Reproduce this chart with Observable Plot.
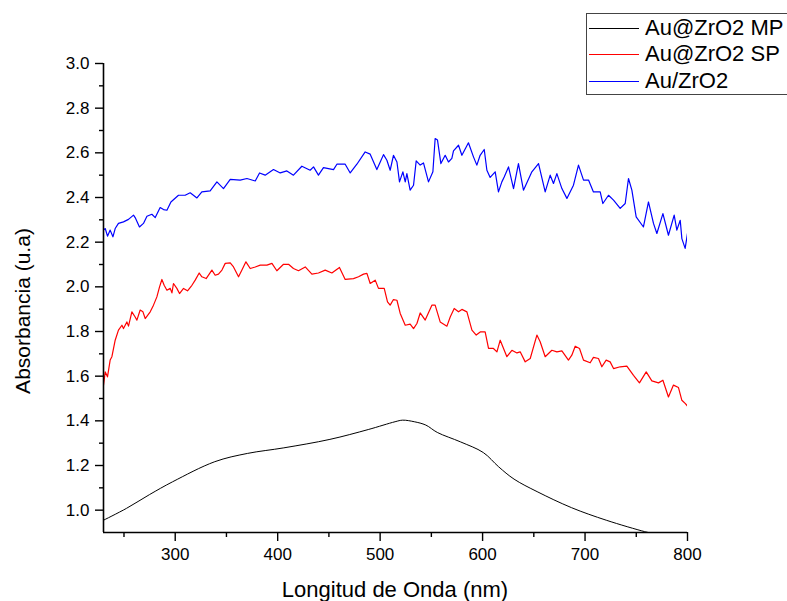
<!DOCTYPE html>
<html>
<head>
<meta charset="utf-8">
<script src="https://cdn.jsdelivr.net/npm/d3@7"></script>
<script src="https://cdn.jsdelivr.net/npm/@observablehq/plot@0.6"></script>
<style>
  html, body { margin: 0; padding: 0; background: #fff; }
  #wrap { position: relative; width: 787px; height: 601px; overflow: hidden; font-family: "Liberation Sans", Arial, sans-serif; }
  #legend { position: absolute; left: 586px; top: 13px; width: 215px; height: 82px; border: 1px solid #444; box-sizing: border-box; background: #fff; }
  .row { position: absolute; left: 0; height: 0; }
  .sw { position: absolute; left: 2px; width: 50px; height: 1px; top: 0; }
  .lb { position: absolute; left: 58px; top: 0; transform: translateY(-52%); font-size: 22px; line-height: 1; white-space: nowrap; color: #000; }
</style>
</head>
<body>
<div id="wrap"></div>
<script>
// ---- data ----
const seriesNames = ["Au@ZrO2 MP", "Au@ZrO2 SP", "Au/ZrO2"];
const seriesColors = ["#000000", "#ff0000", "#0000ff"];
const xDomain = [230, 800];
const yDomain = [0.9, 3.0];
const xTicks = [300, 400, 500, 600, 700, 800];
const xMinorTicks = [250, 350, 450, 550, 650, 750];
const yTicks = [1.0, 1.2, 1.4, 1.6, 1.8, 2.0, 2.2, 2.4, 2.6, 2.8, 3.0];
const yMinorTicks = [1.1, 1.3, 1.5, 1.7, 1.9, 2.1, 2.3, 2.5, 2.7, 2.9];

// Au@ZrO2 MP (black)
const mp = [[230,0.955],[252.4,1.008],[275,1.07],[297.4,1.127],[338.6,1.217],[370.4,1.254],[406,1.279],[451,1.317],[488.4,1.361],[514.6,1.396],[522,1.403],[533.3,1.396],[544.6,1.381],[555.8,1.348],[578.3,1.306],[600.7,1.258],[615.7,1.194],[630.7,1.139],[653.2,1.083],[686.9,1.011],[720.7,0.955],[758.1,0.904],[765,0.897]];

// Au@ZrO2 SP (red)
const sp = [[230.0,1.560],[231.7,1.619],[233.9,1.597],[236.5,1.672],[238.2,1.687],[241.4,1.761],[244.6,1.806],[248.0,1.828],[249.5,1.813],[252.8,1.843],[254.4,1.824],[257.7,1.888],[260.9,1.865],[262.6,1.851],[265.8,1.896],[268.5,1.888],[270.7,1.858],[275.6,1.888],[278.8,1.918],[282.1,1.955],[284.7,2.000],[287.0,2.033],[289.2,2.007],[291.9,1.985],[295.1,1.993],[296.8,1.973],[298.3,2.015],[301.6,1.993],[304.2,1.970],[308.1,1.993],[312.0,1.982],[316.3,2.007],[319.5,2.030],[323.4,2.062],[326.0,2.045],[330.2,2.037],[335.8,2.075],[339.0,2.052],[342.2,2.057],[345.6,2.075],[348.8,2.105],[353.7,2.107],[356.9,2.089],[361.8,2.045],[365.1,2.075],[369.0,2.112],[373.2,2.082],[378.1,2.089],[383.0,2.097],[389.5,2.097],[394.4,2.105],[399.2,2.072],[405.7,2.101],[410.6,2.101],[415.4,2.082],[420.3,2.072],[426.9,2.089],[433.4,2.057],[439.8,2.062],[446.4,2.075],[452.9,2.062],[460.3,2.087],[465.9,2.033],[474.0,2.037],[478.9,2.045],[483.8,2.057],[487.1,2.060],[490.3,2.015],[495.2,2.030],[498.4,1.993],[504.0,1.993],[507.2,1.933],[509.8,1.918],[513.0,1.943],[516.4,1.940],[519.6,1.881],[524.5,1.828],[529.3,1.833],[532.6,1.813],[535.9,1.836],[539.1,1.883],[544.0,1.851],[550.5,1.918],[553.7,1.918],[558.6,1.843],[565.2,1.824],[568.4,1.865],[572.3,1.903],[576.5,1.888],[579.8,1.899],[584.7,1.888],[589.6,1.806],[593.8,1.784],[597.7,1.798],[602.5,1.798],[605.8,1.724],[610.6,1.724],[614.0,1.709],[617.2,1.761],[623.7,1.687],[628.6,1.716],[633.5,1.704],[636.7,1.709],[641.6,1.664],[646.5,1.679],[653.0,1.784],[656.2,1.754],[661.1,1.687],[667.6,1.716],[672.5,1.709],[677.4,1.713],[683.8,1.672],[687.1,1.694],[690.4,1.734],[694.6,1.724],[698.5,1.672],[705.0,1.660],[708.2,1.684],[713.1,1.679],[716.4,1.642],[720.6,1.672],[724.5,1.664],[727.8,1.634],[734.3,1.642],[740.8,1.645],[747.3,1.604],[753.1,1.570],[759.7,1.619],[765.2,1.579],[771.7,1.570],[776.0,1.582],[781.4,1.507],[786.3,1.560],[791.2,1.549],[794.5,1.492],[797.7,1.478],[800.0,1.466]];

// Au/ZrO2 (blue)
const az = [[230.0,2.254],[231.7,2.261],[233.9,2.227],[236.5,2.254],[239.2,2.224],[241.4,2.261],[244.6,2.284],[249.5,2.291],[254.4,2.302],[259.3,2.321],[260.9,2.310],[265.1,2.268],[269.0,2.284],[272.4,2.316],[277.2,2.325],[280.5,2.310],[285.3,2.355],[288.6,2.346],[291.9,2.343],[295.8,2.380],[303.2,2.410],[309.7,2.410],[314.6,2.421],[321.2,2.398],[326.0,2.425],[334.1,2.430],[340.7,2.470],[347.1,2.440],[353.7,2.481],[363.4,2.478],[370.0,2.485],[378.1,2.474],[382.3,2.510],[387.8,2.500],[395.9,2.525],[402.5,2.510],[409.0,2.519],[415.4,2.500],[423.6,2.540],[431.7,2.522],[435.0,2.537],[439.8,2.500],[444.7,2.534],[454.5,2.525],[457.8,2.549],[465.9,2.549],[470.8,2.510],[477.3,2.549],[485.4,2.604],[490.3,2.594],[496.8,2.525],[500.1,2.559],[503.3,2.592],[506.6,2.567],[509.8,2.522],[513.0,2.589],[516.4,2.559],[518.9,2.470],[522.2,2.515],[524.5,2.470],[526.1,2.507],[529.3,2.433],[532.6,2.455],[535.2,2.564],[539.1,2.545],[542.3,2.555],[547.2,2.470],[551.5,2.515],[553.7,2.664],[556.0,2.657],[559.3,2.552],[563.5,2.589],[566.7,2.559],[570.0,2.575],[571.6,2.609],[576.5,2.634],[579.8,2.589],[586.2,2.645],[591.1,2.582],[594.4,2.545],[597.6,2.589],[601.6,2.615],[604.2,2.522],[607.4,2.490],[612.3,2.515],[615.5,2.425],[618.8,2.470],[621.1,2.492],[625.3,2.537],[630.2,2.440],[635.0,2.552],[639.9,2.433],[648.1,2.515],[654.6,2.552],[661.1,2.425],[666.0,2.500],[669.2,2.463],[672.5,2.507],[677.4,2.440],[682.3,2.396],[688.7,2.455],[693.6,2.545],[698.5,2.478],[703.4,2.478],[708.2,2.425],[714.8,2.425],[717.4,2.373],[722.9,2.410],[727.8,2.388],[734.3,2.351],[739.2,2.373],[742.4,2.485],[745.7,2.433],[749.9,2.313],[757.0,2.268],[761.9,2.380],[766.8,2.284],[770.1,2.239],[776.0,2.328],[781.4,2.231],[787.0,2.321],[789.6,2.254],[792.9,2.298],[794.5,2.216],[797.7,2.172],[800.0,2.239]];

const seriesData = [mp, sp, az];

// ---- chart ----
const chart = Plot.plot({
  width: 787,
  height: 601,
  marginTop: 63,
  marginRight: 100,
  marginBottom: 69,
  marginLeft: 103,
  style: { fontFamily: "'Liberation Sans', Arial, sans-serif", fontSize: "17px", color: "#000", background: "#fff" },
  x: { domain: xDomain },
  y: { domain: yDomain },
  marks: [
    Plot.line(mp, { x: d => d[0], y: d => d[1], stroke: seriesColors[0], strokeWidth: 1, curve: "catmull-rom", clip: true }),
    Plot.line(sp, { x: d => d[0], y: d => d[1], stroke: seriesColors[1], strokeWidth: 1.2, clip: true }),
    Plot.line(az, { x: d => d[0], y: d => d[1], stroke: seriesColors[2], strokeWidth: 1.2, clip: true }),
    Plot.ruleX([xDomain[0]], { stroke: "#000", strokeWidth: 1.6 }),
    Plot.ruleY([yDomain[0]], { stroke: "#000", strokeWidth: 1.6 }),
    Plot.axisX(xTicks, { tickSize: 9, tickPadding: 6, strokeWidth: 1.4, label: null, tickFormat: d => String(d) }),
    Plot.axisX(xMinorTicks, { tickSize: 5, strokeWidth: 1.4, label: null, tickFormat: () => "" }),
    Plot.axisY(yTicks, { tickSize: 8, tickPadding: 6, strokeWidth: 1.4, label: null, tickFormat: d => d.toFixed(1) }),
    Plot.axisY(yMinorTicks, { tickSize: 4, strokeWidth: 1.4, label: null, tickFormat: () => "" })
  ]
});

const wrap = document.getElementById("wrap");
wrap.appendChild(chart);

// axis titles
const svg = d3.select(chart);
svg.append("text")
  .attr("x", 395).attr("y", 597)
  .attr("text-anchor", "middle")
  .attr("font-size", 22)
  .attr("fill", "#000")
  .text("Longitud de Onda (nm)");
svg.append("text")
  .attr("transform", "translate(30,311) rotate(-90)")
  .attr("text-anchor", "middle")
  .attr("font-size", 21)
  .attr("fill", "#000")
  .text("Absorbancia (u.a)");

// legend
const legend = document.createElement("div");
legend.id = "legend";
seriesNames.forEach((name, i) => {
  const row = document.createElement("div");
  row.className = "row";
  row.style.top = (13.5 + i * 26.5) + "px";
  const sw = document.createElement("div");
  sw.className = "sw";
  sw.style.background = seriesColors[i];
  const lb = document.createElement("div");
  lb.className = "lb";
  lb.textContent = name;
  row.appendChild(sw);
  row.appendChild(lb);
  legend.appendChild(row);
});
wrap.appendChild(legend);
</script>
</body>
</html>
